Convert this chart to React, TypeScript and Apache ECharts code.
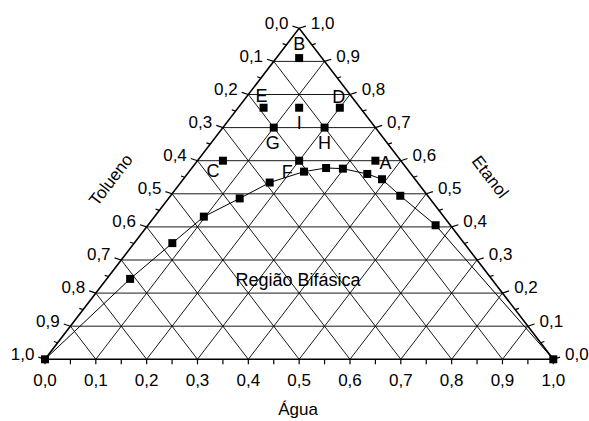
import React, { useEffect, useRef } from "react";
import * as echarts from "echarts";

// Shared tick values for the three ternary axes (Água, Tolueno, Etanol)
const tickValues = [0, 0.1, 0.2, 0.3, 0.4, 0.5, 0.6, 0.7, 0.8, 0.9, 1.0];
const tickLabels = ["0,0", "0,1", "0,2", "0,3", "0,4", "0,5", "0,6", "0,7", "0,8", "0,9", "1,0"];
const minorTickValues = [0.05, 0.15, 0.25, 0.35, 0.45, 0.55, 0.65, 0.75, 0.85, 0.95];

// Binodal curve (mass fractions); Tolueno = 1 - Água - Etanol
const curveAgua = [0, 0.046, 0.075, 0.097, 0.14, 0.175, 0.226, 0.264, 0.298, 0.354, 0.391, 0.452, 0.566, 1.0];
const curveEtanol = [0, 0.243, 0.351, 0.431, 0.486, 0.534, 0.567, 0.578, 0.576, 0.56, 0.544, 0.494, 0.405, 0];

// Mixture points
const pointNames = ["A", "B", "C", "D", "E", "F", "G", "H", "I"];
const pointAgua = [0.35, 0.045, 0.05, 0.2, 0.05, 0.2, 0.1, 0.2, 0.12];
const pointEtanol = [0.6, 0.91, 0.6, 0.76, 0.76, 0.6, 0.7, 0.7, 0.76];

const FONT = "'Liberation Sans', Arial, Helvetica, sans-serif";

// label placement relative to each point's marker (pixels)
const labelOffsets: Record<string, [number, number]> = {
  A: [10, 2],
  B: [0, -14],
  C: [-10, 10],
  D: [-1, -11],
  E: [-2, -12],
  F: [-12, 11],
  G: [-1, 15],
  H: [0, 15],
  I: [0, 15],
};

// (Água, Etanol) -> cartesian position inside the triangle
function toXY(agua: number, etanol: number): [number, number] {
  return [agua + etanol / 2, etanol];
}

export default function App() {
  const ref = useRef<HTMLDivElement>(null);

  useEffect(() => {
    if (!ref.current) return;
    const chart = echarts.init(ref.current, undefined, { renderer: "svg" });

    const major = 7;
    const minor = 4;
    const ang = (18 * Math.PI) / 180;
    const cx = Math.cos(ang);
    const sy = Math.sin(ang);

    const frameRender = (_params: any, api: any) => {
      const P = (a: number, e: number) => api.coord(toXY(a, e));
      const children: any[] = [];
      const seg = (p: number[], q: number[], w: number) =>
        children.push({
          type: "line",
          shape: { x1: p[0], y1: p[1], x2: q[0], y2: q[1] },
          style: { stroke: "#000", lineWidth: w },
          silent: true,
        });
      const txt = (x: number, y: number, text: string, align: string, size = 17) =>
        children.push({
          type: "text",
          x,
          y,
          style: {
            text,
            fill: "#000",
            fontSize: size,
            fontFamily: FONT,
            align,
            verticalAlign: "middle",
          },
          silent: true,
        });

      // inner grid lines
      tickValues.slice(1, -1).forEach((v) => {
        seg(P(0, v), P(1 - v, v), 0.9); // Etanol constant
        seg(P(v, 0), P(v, 1 - v), 0.9); // Água constant
        seg(P(1 - v, 0), P(0, 1 - v), 0.9); // Tolueno constant
      });

      // triangle outline
      const A0 = P(0, 0);
      const A1 = P(1, 0);
      const E1 = P(0, 1);
      children.push({
        type: "polygon",
        shape: { points: [A0, A1, E1] },
        style: { fill: "none", stroke: "#000", lineWidth: 1.6 },
        silent: true,
      });

      // bottom axis: Água
      tickValues.forEach((v, i) => {
        const p = P(v, 0);
        seg(p, [p[0], p[1] + 5], 1.2);
        txt(p[0], p[1] + 21.5, tickLabels[i], "center");
      });
      minorTickValues.forEach((v) => {
        const p = P(v, 0);
        seg(p, [p[0], p[1] + 5], 1.2);
      });

      // left axis: Tolueno (0 at apex)
      tickValues.forEach((v, i) => {
        const p = P(0, 1 - v);
        const q = [p[0] - major * cx, p[1] - major * sy];
        seg(p, q, 1.2);
        txt(q[0] - 4, q[1] - 3, tickLabels[i], "right");
      });
      minorTickValues.forEach((v) => {
        const p = P(0, 1 - v);
        seg(p, [p[0] - minor * cx, p[1] - minor * sy], 1.2);
      });

      // right axis: Etanol (1 at apex)
      tickValues.forEach((v, i) => {
        const p = P(1 - v, v);
        const q = [p[0] + major * cx, p[1] - major * sy];
        seg(p, q, 1.2);
        txt(q[0] + 5, q[1] - 3, tickLabels[i], "left");
      });
      minorTickValues.forEach((v) => {
        const p = P(1 - v, v);
        seg(p, [p[0] + minor * cx, p[1] - minor * sy], 1.2);
      });

      // point letters
      pointNames.forEach((n, i) => {
        const p = P(pointAgua[i], pointEtanol[i]);
        const o = labelOffsets[n];
        txt(p[0] + o[0], p[1] + o[1], n, "center", 18);
      });

      return { type: "group", children };
    };

    const curveData = curveAgua.map((a, i) => toXY(a, curveEtanol[i]));
    const pointData = pointNames.map((n, i) => ({
      name: n,
      value: toXY(pointAgua[i], pointEtanol[i]),
    }));

    chart.setOption({
      animation: false,
      backgroundColor: "#fff",
      grid: { left: 45, top: 28.3, width: 508.3, height: 331 },
      xAxis: { type: "value", min: 0, max: 1, show: false },
      yAxis: { type: "value", min: 0, max: 1, show: false },
      graphic: [
        {
          type: "text",
          x: 298,
          y: 409,
          style: { text: "Água", fill: "#000", fontSize: 17, fontFamily: FONT, align: "center", verticalAlign: "middle" },
        },
        {
          type: "text",
          x: 111,
          y: 180,
          rotation: (52.5 * Math.PI) / 180,
          style: { text: "Tolueno", fill: "#000", fontSize: 17, fontFamily: FONT, align: "center", verticalAlign: "middle" },
        },
        {
          type: "text",
          x: 490,
          y: 177,
          rotation: (-52.5 * Math.PI) / 180,
          style: { text: "Etanol", fill: "#000", fontSize: 17, fontFamily: FONT, align: "center", verticalAlign: "middle" },
        },
        {
          type: "text",
          x: 298,
          y: 280,
          style: { text: "Região Bifásica", fill: "#000", fontSize: 18, fontFamily: FONT, align: "center", verticalAlign: "middle" },
        },
      ],
      series: [
        {
          type: "custom",
          coordinateSystem: "cartesian2d",
          renderItem: frameRender,
          data: [[0, 0]],
          clip: false,
          silent: true,
          z: 1,
        },
        {
          type: "line",
          data: curveData,
          symbol: "rect",
          symbolSize: 8,
          showAllSymbol: true,
          clip: false,
          itemStyle: { color: "#000" },
          lineStyle: { color: "#000", width: 1 },
          z: 3,
        },
        {
          type: "scatter",
          data: pointData,
          symbol: "rect",
          symbolSize: 8,
          clip: false,
          itemStyle: { color: "#000", opacity: 1 },
          z: 4,
        },
      ],
    });

    return () => chart.dispose();
  }, []);

  return (
    <div
      ref={ref}
      style={{ position: "fixed", left: 0, top: 0, width: 589, height: 421, background: "#fff" }}
    />
  );
}
